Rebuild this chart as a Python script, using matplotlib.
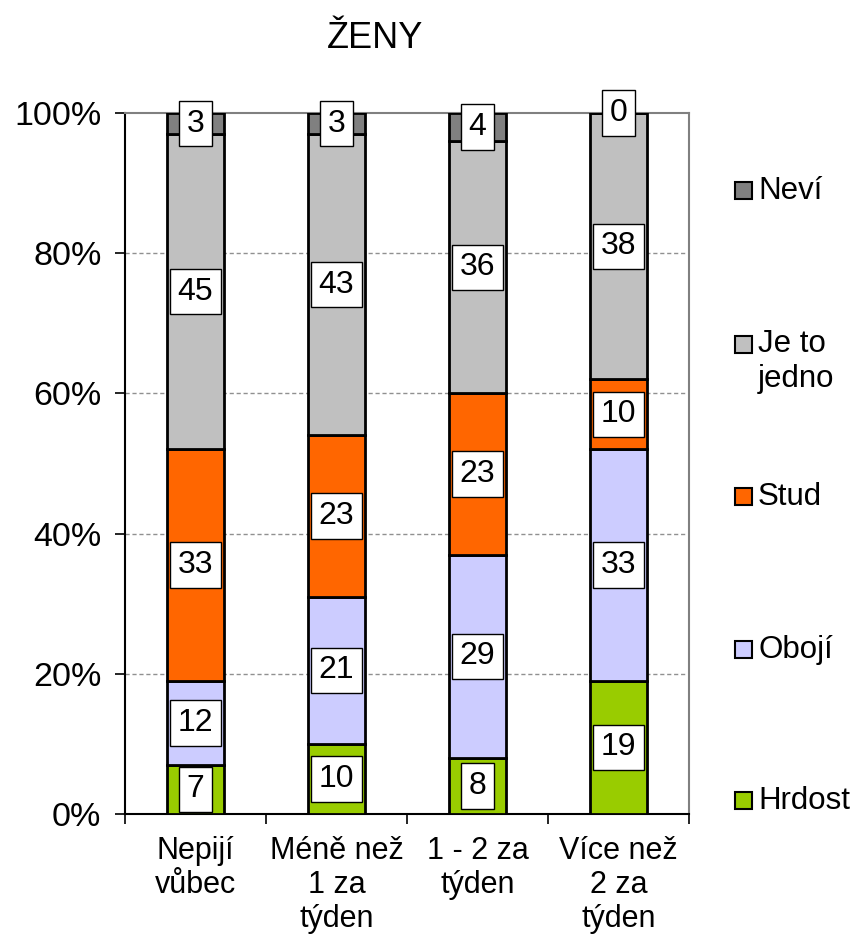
import numpy as np
import matplotlib
matplotlib.use("Agg")
import matplotlib.pyplot as plt
from matplotlib.patches import Rectangle

plt.rcParams['font.family'] = ['Liberation Sans', 'DejaVu Sans']

categories = ["Nepijí\nvůbec", "Méně než\n1 za\ntýden", "1 - 2 za\ntýden", "Více než\n2 za\ntýden"]
series = ["Hrdost", "Obojí", "Stud", "Je to\njedno", "Neví"]
hrdost = [7, 10, 8, 19]
oboji = [12, 21, 29, 33]
stud = [33, 23, 23, 10]
jedno = [45, 43, 36, 38]
nevi = [3, 3, 4, 0]
colors = ["#99CC00", "#CCCCFF", "#FF6600", "#C0C0C0", "#808080"]

values = [hrdost, oboji, stud, jedno, nevi]

fig = plt.figure(figsize=(8.57, 9.42), dpi=100)
ax = fig.add_axes([125/857, 1 - 814/942, (689-125)/857, (814-113)/942])

x = np.arange(len(categories))
bottom = np.zeros(len(categories))
for vals, col in zip(values, colors):
    vals = np.array(vals, dtype=float)
    ax.bar(x, vals, 0.4, bottom=bottom, color=col, edgecolor="black", linewidth=2, zorder=3)
    for xi, b, v in zip(x, bottom, vals):
        ax.text(xi, b + v/2, "%d" % v, ha="center", va="center", fontsize=23, zorder=5,
                bbox=dict(boxstyle="square,pad=0.24", fc="white", ec="black", lw=1))
    bottom += vals

ax.set_xlim(-0.5, 3.5)
ax.set_ylim(0, 100)
ax.set_yticks(range(0, 101, 20))
ax.set_yticklabels(["%d%%" % v for v in range(0, 101, 20)], fontsize=24.5)
ax.set_xticks(x)
ax.set_xticklabels(categories, fontsize=22, linespacing=1.17)
ax.set_xticks([-0.5, 0.5, 1.5, 2.5, 3.5], minor=True)
ax.tick_params(axis="x", which="major", length=0, pad=16)
ax.tick_params(axis="x", which="minor", length=7, width=1.2, direction="out")
ax.tick_params(axis="y", length=7, width=1.2, direction="out", pad=10)

for yv in range(20, 100, 20):
    ax.axhline(yv, color="#909090", linestyle=(0, (3, 2)), linewidth=1, zorder=1)

ax.spines["left"].set_color("black")
ax.spines["left"].set_linewidth(1.5)
ax.spines["bottom"].set_color("black")
ax.spines["bottom"].set_linewidth(1.5)
ax.spines["top"].set_color("#808080")
ax.spines["right"].set_color("#808080")
ax.spines["top"].set_linewidth(1.5)
ax.spines["right"].set_linewidth(1.5)

fig.text(375/857, 1 - 38/942, "ŽENY", ha="center", va="center", fontsize=26)

# legend drawn by hand, top entry first
leg_y = [191, 345, 497, 650, 801]
for name, col, yp in zip(series[::-1], colors[::-1], leg_y):
    fig.patches.append(Rectangle((735/857, 1 - (yp + 8)/942), 17/857, 17/942,
                                 transform=fig.transFigure, facecolor=col,
                                 edgecolor="black", linewidth=1.5))
    if "\n" in name:
        fig.text(758/857, 1 - (yp - 16)/942, name, ha="left", va="top",
                 fontsize=22.5, linespacing=1.2)
    else:
        fig.text(758/857, 1 - yp/942, name, ha="left", va="center", fontsize=22.5)

fig.savefig("out.png", dpi=100)
